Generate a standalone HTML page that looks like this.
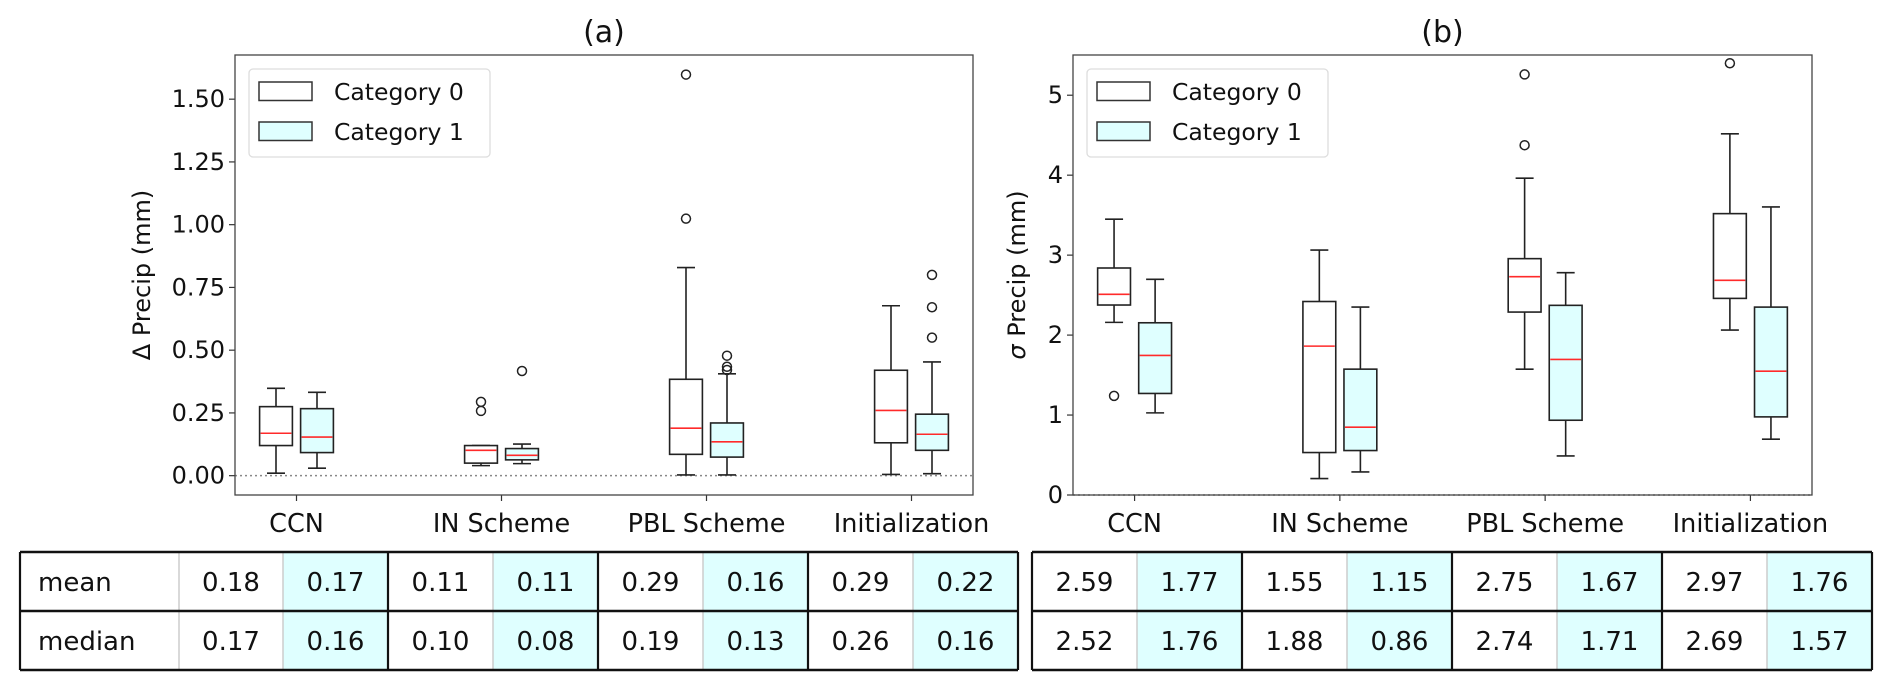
<!DOCTYPE html>
<html><head><meta charset="utf-8"><style>
body{margin:0;background:#fff;width:1892px;height:690px;overflow:hidden;font-family:"DejaVu Sans","Liberation Sans",sans-serif}
svg{position:absolute;left:0;top:0}
</style></head><body>
<svg id="chart" width="1892" height="690" font-family="DejaVu Sans, Liberation Sans, sans-serif"></svg>
<script>
const categories=["CCN","IN Scheme","PBL Scheme","Initialization"];
// panel a: [whislo,q1,med,q3,whishi]
const aCat0=[[0.01,0.12,0.169,0.275,0.348],[0.04,0.05,0.101,0.12,0.12],[0.003,0.085,0.189,0.384,0.829],[0.005,0.131,0.26,0.42,0.677]];
const aCat1=[[0.03,0.092,0.154,0.267,0.332],[0.048,0.063,0.081,0.108,0.126],[0.003,0.074,0.135,0.21,0.406],[0.008,0.101,0.165,0.245,0.453]];
const aOut0=[[],[0.294,0.258],[1.598,1.024],[]];
const aOut1=[[],[0.417],[0.478,0.434,0.421],[0.8,0.671,0.55]];
const bCat0=[[2.159,2.376,2.51,2.839,3.449],[0.205,0.531,1.862,2.42,3.064],[1.574,2.288,2.73,2.956,3.962],[2.063,2.459,2.685,3.519,4.517]];
const bCat1=[[1.027,1.27,1.745,2.154,2.697],[0.288,0.556,0.848,1.574,2.35],[0.488,0.935,1.696,2.372,2.78],[0.698,0.977,1.549,2.35,3.603]];
const bOut0=[[1.24],[],[5.26,4.375],[5.40]];
const bOut1=[[],[],[],[]];
const aTicks=["0.00","0.25","0.50","0.75","1.00","1.25","1.50"];
const bTicks=["0","1","2","3","4","5"];
const tableRows=["mean","median"];
const aMean=["0.18","0.17","0.11","0.11","0.29","0.16","0.29","0.22"];
const aMedian=["0.17","0.16","0.10","0.08","0.19","0.13","0.26","0.16"];
const bMean=["2.59","1.77","1.55","1.15","2.75","1.67","2.97","1.76"];
const bMedian=["2.52","1.76","1.88","0.86","2.74","1.71","2.69","1.57"];

const svg=document.getElementById('chart');
const NS="http://www.w3.org/2000/svg";
function mk(tag,attrs,parent){const e=document.createElementNS(NS,tag);for(const k in attrs)e.setAttribute(k,attrs[k]);(parent||svg).appendChild(e);return e;}

function panel(p){
  const g=mk('g',{});
  
  
  const X=v=>p.L+(v-0.7)/3.6*(p.R-p.L);
  const Y=v=>p.B-(v-p.ymin)/(p.ymax-p.ymin)*(p.B-p.T);
  const ux=(p.R-p.L)/3.6;
  if(p.zeroLine){const zl=mk('line',{x1:p.L,x2:p.R,y1:Y(0),y2:Y(0),stroke:'#888','stroke-width':1.5,'stroke-dasharray':'2,3'},g);
    }
  p.ticks.forEach(t=>{const v=parseFloat(t),y=Y(v);
    mk('line',{x1:p.L-6,x2:p.L,y1:y,y2:y,stroke:'#333','stroke-width':1.2},g);
    const tx=mk('text',{x:p.L-10,y:y+8,'text-anchor':'end','font-size':24,fill:'#111'},g);tx.textContent=t;
    });
  categories.forEach((c,i)=>{const x=X(i+1);
    mk('line',{x1:x,x2:x,y1:p.B,y2:p.B+6,stroke:'#333','stroke-width':1.2},g);
    const tx=mk('text',{x:x,y:p.B+37,'text-anchor':'middle','font-size':25.5,fill:'#111'},g);tx.textContent=c;
    
    [[p.c0,p.o0,-0.1,'#fff'],[p.c1,p.o1,0.1,'#dfffff']].forEach(([d,o,off,fill],k)=>{
      const s=d[i],cx=x+off*ux,w=0.16*ux,cw=9;
      const bg=mk('g',{},g);
      
      
      mk('line',{x1:cx,x2:cx,y1:Y(s[0]),y2:Y(s[1]),stroke:'#222','stroke-width':1.6},bg);
      mk('line',{x1:cx,x2:cx,y1:Y(s[3]),y2:Y(s[4]),stroke:'#222','stroke-width':1.6},bg);
      mk('line',{x1:cx-cw,x2:cx+cw,y1:Y(s[0]),y2:Y(s[0]),stroke:'#222','stroke-width':1.6},bg);
      mk('line',{x1:cx-cw,x2:cx+cw,y1:Y(s[4]),y2:Y(s[4]),stroke:'#222','stroke-width':1.6},bg);
      mk('rect',{x:cx-w/2,y:Y(s[3]),width:w,height:Y(s[1])-Y(s[3]),fill:fill,stroke:'#222','stroke-width':1.6},bg);
      mk('line',{x1:cx-w/2+1,x2:cx+w/2-1,y1:Y(s[2]),y2:Y(s[2]),stroke:'#ff2a2a','stroke-width':1.6},bg);
      o[i].forEach(v=>{const ci=mk('circle',{cx:cx,cy:Y(v),r:4.5,fill:'none',stroke:'#222','stroke-width':1.5},bg);
        });
    });
  });
  const fr=mk('rect',{x:p.L,y:p.T,width:p.R-p.L,height:p.B-p.T,fill:'none',stroke:'#444','stroke-width':1.3},g);
  
  const ti=mk('text',{x:(p.L+p.R)/2,y:42,'text-anchor':'middle','font-size':30,fill:'#111'},g);ti.textContent=p.title;
  
  const yt=mk('text',{x:0,y:0,'text-anchor':'middle','font-size':24,fill:'#111',transform:`translate(${p.ytx},${(p.T+p.B)/2}) rotate(-90)`},g);
  yt.innerHTML=p.ylabel;
  
  const lg=mk('g',{},g);
  const lx=p.L+14;
  mk('rect',{x:lx,y:69,width:241,height:88,rx:4,fill:'#fff',stroke:'#ddd','stroke-width':1.3},lg);
  [['Category 0','#fff',82],['Category 1','#dfffff',122]].forEach(([t,f,y])=>{
    const e=mk('g',{},lg);
    mk('rect',{x:lx+10,y:y,width:53,height:18.5,fill:f,stroke:'#333','stroke-width':1.5},e);
    const tt=mk('text',{x:lx+85,y:y+18,'font-size':23.5,fill:'#111'},e);tt.textContent=t;});
}
panel({id:'a',L:235,R:973,T:55,B:495,ymin:-0.077,ymax:1.676,c0:aCat0,c1:aCat1,o0:aOut0,o1:aOut1,ticks:aTicks,zeroLine:true,title:'(a)',ytx:150,ylabel:'Δ Precip (mm)'});
panel({id:'b',L:1073,R:1812,T:55,B:495,ymin:0,ymax:5.503,c0:bCat0,c1:bCat1,o0:bOut0,o1:bOut1,ticks:bTicks,zeroLine:true,title:'(b)',ytx:1025,ylabel:'<tspan font-style="italic">σ</tspan> Precip (mm)'});

function table(id,x0,cols,rowsVals,withLabel){
  const g=mk('g',{});
  const top=552,rh=59;
  cols.forEach((cx,j)=>{ if(j===cols.length-1)return;
    const idx=withLabel?j-1:j;
    const fill=(idx>=0&&idx%2===1)?'#dfffff':'#fff';
    mk('rect',{x:cx,y:top,width:cols[j+1]-cx,height:2*rh,fill:fill},g);});
  cols.forEach((cx,j)=>{const idx=withLabel?j-1:j;
    const thick=(j===0||j===cols.length-1||(idx>=0&&idx%2===0&&idx>0));
    mk('line',{x1:cx,x2:cx,y1:top,y2:top+2*rh,stroke:thick?'#111':'#ccc','stroke-width':thick?2.2:1.5},g);});
  [0,1,2].forEach(r=>mk('line',{x1:cols[0],x2:cols[cols.length-1],y1:top+r*rh,y2:top+r*rh,stroke:'#111','stroke-width':2.5},g));
  rowsVals.forEach((vals,r)=>{
    if(withLabel){const t=mk('text',{x:cols[0]+18,y:top+r*rh+39,'font-size':26,fill:'#111'},g);t.textContent=tableRows[r];
      }
    vals.forEach((v,k)=>{const j=withLabel?k+1:k;
      const t=mk('text',{x:(cols[j]+cols[j+1])/2,y:top+r*rh+39,'text-anchor':'middle','font-size':26,fill:'#111'},g);t.textContent=v;
      });
  });
}
table('table-a',20,[20,179,283,388,493,598,703,808,913,1018],[aMean,aMedian],true);
table('table-b',1032,[1032,1137,1242,1347,1452,1557,1662,1767,1872],[bMean,bMedian],false);
</script>
</body></html>
